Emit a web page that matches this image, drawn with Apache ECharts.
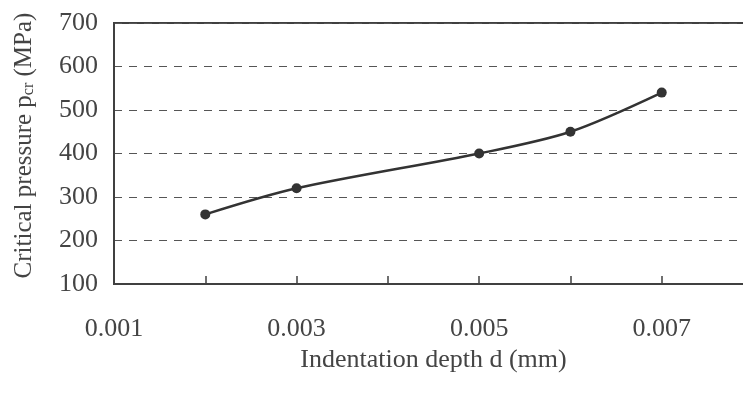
<!DOCTYPE html>
<html>
<head>
<meta charset="utf-8">
<script src="https://cdn.jsdelivr.net/npm/echarts@6/dist/echarts.min.js"></script>
<style>html,body{margin:0;padding:0;background:#fff;}#c{width:743px;height:398px;}</style>
</head>
<body>
<div id="c"></div>
<script>
var depth = [0.002, 0.003, 0.005, 0.006, 0.007];
var pressure = [260, 320, 400, 450, 540];
var xLabels = ['0.001', '0.003', '0.005', '0.007'];
var xName = 'Indentation depth d (mm)';
var yNameParts = ['Critical pressure p', 'cr', ' (MPa)'];

var chart = echarts.init(document.getElementById('c'));
var font = '"Liberation Serif", "Times New Roman", serif';
var dark = '#404040';
chart.setOption({
  animation: false,
  grid: {left: 114, top: 23, width: 639, bottom: 114, outerBoundsMode: 'none', containLabel: false,
         show: true, borderColor: dark, borderWidth: 2, backgroundColor: 'transparent'},
  xAxis: {
    type: 'value', min: 0.001, max: 0.008, interval: 0.001,
    axisLine: {show: true, lineStyle: {color: dark, width: 2}},
    axisTick: {show: true, inside: true, length: 8, lineStyle: {color: dark, width: 1.5}},
    splitLine: {show: false},
    axisLabel: {
      margin: 32, color: '#444', fontFamily: font, fontSize: 26,
      formatter: function (v) {
        var s = v.toFixed(3);
        return xLabels.indexOf(s) >= 0 ? s : '';
      }
    },
    name: xName, nameLocation: 'middle', nameGap: 55,
    nameTextStyle: {color: '#444', fontFamily: font, fontSize: 26}
  },
  yAxis: {
    type: 'value', min: 100, max: 700, interval: 100,
    axisLine: {show: true, lineStyle: {color: dark, width: 2}},
    axisTick: {show: false},
    splitLine: {show: true, lineStyle: {color: '#555', width: 1, type: [8, 7]}},
    axisLabel: {margin: 16, color: '#444', fontFamily: font, fontSize: 26},
    name: '{a|' + yNameParts[0] + '}{s|' + yNameParts[1] + '}{a|' + yNameParts[2] + '}',
    nameLocation: 'middle', nameGap: 77,
    nameTextStyle: {
      color: '#444', fontFamily: font, fontSize: 25, padding: [0, 0, 0, 16],
      rich: {
        a: {fontFamily: font, fontSize: 25, color: '#444'},
        s: {fontFamily: font, fontSize: 16, color: '#444', verticalAlign: 'bottom'}
      }
    }
  },
  series: [{
    type: 'line', data: depth.map(function (d, i) { return [d, pressure[i]]; }),
    smooth: 0.3, symbol: 'circle', symbolSize: 10,
    lineStyle: {color: '#333', width: 2.5},
    itemStyle: {color: '#333'}
  }]
});
</script>
</body>
</html>
